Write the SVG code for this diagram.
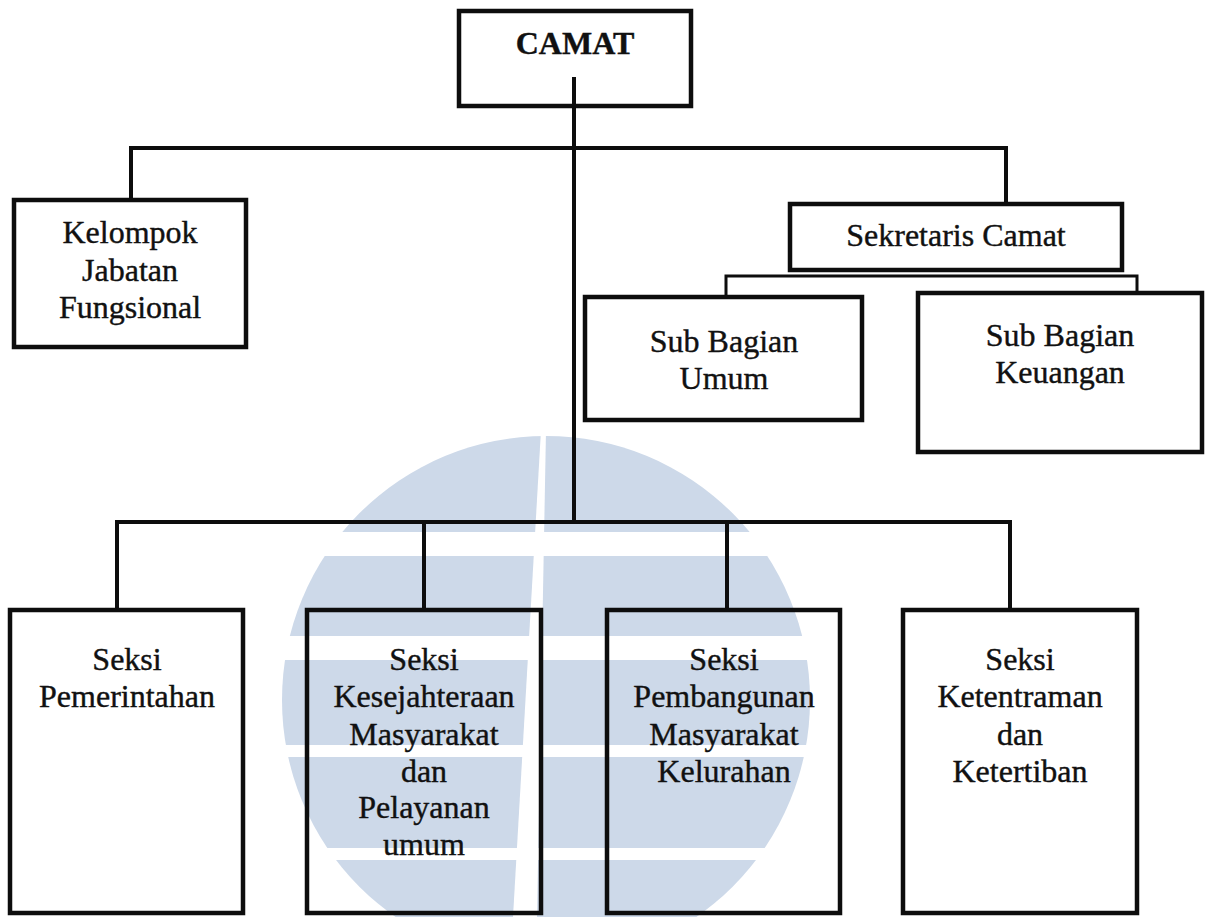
<svg xmlns="http://www.w3.org/2000/svg" width="1205" height="917" viewBox="0 0 1205 917">
<style>
.box{fill:none;stroke:#0d0d0d;stroke-width:4.5}
.ln{fill:none;stroke:#0d0d0d;stroke-width:4;stroke-linecap:square}
.thin{fill:none;stroke:#0d0d0d;stroke-width:3}
.t{font-size:32px;fill:#111;stroke:#111;stroke-width:0.4;text-anchor:middle}
.b{font-weight:bold}
.wm{fill:#cdd9e9}
.gap{fill:#ffffff}
</style>
<rect width="1205" height="917" fill="#ffffff"/>
<g id="watermark">
<circle class="wm" cx="546" cy="700" r="264"/>
<rect class="gap" x="270" y="532" width="560" height="24"/>
<rect class="gap" x="270" y="636" width="560" height="24"/>
<rect class="gap" x="270" y="745" width="560" height="12"/>
<rect class="gap" x="270" y="848" width="560" height="12"/>
<polygon class="gap" points="541,430 546,430 537,917 513,917"/>
</g>
<g id="connectors">
<line class="ln" x1="574" y1="79" x2="574" y2="522"/>
<polyline class="ln" points="131,200 131,148 1006,148 1006,204"/>
<polyline class="thin" points="726,297 726,276 1137,276 1137,293"/>
<polyline class="ln" points="117,610 117,522 1010,522 1010,610"/>
<line class="ln" x1="424" y1="522" x2="424" y2="610"/>
<line class="ln" x1="727" y1="522" x2="727" y2="610"/>
</g>
<g font-family="'Liberation Serif', 'DejaVu Serif', 'Times New Roman', serif">
<g id="camat">
<rect class="box" x="459" y="11" width="232" height="95"/>
<text class="t b" x="575" y="54">CAMAT</text>
</g>
<g id="kelompok">
<rect class="box" x="14" y="200" width="232" height="147"/>
<text class="t" x="130" y="243">Kelompok</text>
<text class="t" x="130" y="281">Jabatan</text>
<text class="t" x="130" y="318">Fungsional</text>
</g>
<g id="sekretaris">
<rect class="box" x="790" y="204" width="332" height="66" fill="#fff"/>
<text class="t" x="956" y="246">Sekretaris Camat</text>
</g>
<g id="umum">
<rect class="box" x="585" y="297" width="277" height="123"/>
<text class="t" x="724" y="352">Sub Bagian</text>
<text class="t" x="724" y="389">Umum</text>
</g>
<g id="keuangan">
<rect class="box" x="918" y="293" width="284" height="159"/>
<text class="t" x="1060" y="346">Sub Bagian</text>
<text class="t" x="1060" y="383">Keuangan</text>
</g>
<g id="pemerintahan">
<rect class="box" x="10" y="610" width="233" height="303"/>
<text class="t" x="127" y="670">Seksi</text>
<text class="t" x="127" y="707">Pemerintahan</text>
</g>
<g id="kesejahteraan">
<rect class="box" x="307" y="610" width="234" height="303"/>
<text class="t" x="424" y="670">Seksi</text>
<text class="t" x="424" y="707">Kesejahteraan</text>
<text class="t" x="424" y="745">Masyarakat</text>
<text class="t" x="424" y="782">dan</text>
<text class="t" x="424" y="818">Pelayanan</text>
<text class="t" x="424" y="855">umum</text>
</g>
<g id="pembangunan">
<rect class="box" x="607" y="610" width="233" height="303"/>
<text class="t" x="724" y="670">Seksi</text>
<text class="t" x="724" y="707">Pembangunan</text>
<text class="t" x="724" y="745">Masyarakat</text>
<text class="t" x="724" y="782">Kelurahan</text>
</g>
<g id="ketentraman">
<rect class="box" x="903" y="610" width="234" height="303"/>
<text class="t" x="1020" y="670">Seksi</text>
<text class="t" x="1020" y="707">Ketentraman</text>
<text class="t" x="1020" y="745">dan</text>
<text class="t" x="1020" y="782">Ketertiban</text>
</g>
</g>
</svg>
